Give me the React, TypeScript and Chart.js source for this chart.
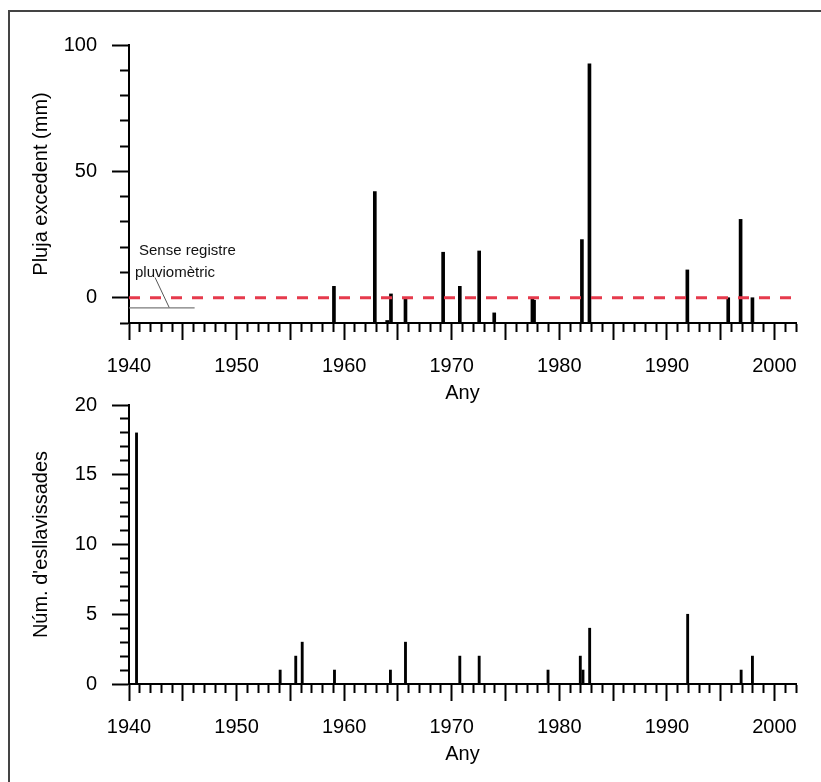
import React, { useEffect, useRef } from 'react';
import { Chart, registerables } from 'chart.js';

Chart.register(...registerables);

// ---------- data ----------
const YEAR_MIN = 1940;
const YEAR_MAX = 2002;

// Top panel: excess rainfall (mm), bars start at the axis floor (-10)
const rainYears = [1959.05, 1962.85, 1964.0, 1964.35, 1965.7, 1969.2, 1970.75, 1972.55, 1973.95, 1977.5, 1977.65, 1982.1, 1982.8, 1991.9, 1995.7, 1996.85, 1997.95];
const rainExcess = [4.5, 42, -9, 1.5, 0, 18, 4.5, 18.5, -6, 0, -1, 23, 92.5, 11, 0, 31, 0];

const thresholdYears = [1940, 2002];
const thresholdValues = [0, 0];

const noRecordYears = [1940, 1946.1];
const noRecordValues = [-4, -4];

const leaderYears = [1942.42, 1943.75];
const leaderValues = [8, -4];

const annotationLines = ['Sense registre', 'pluviomètric'];
const annotationYears = [1940.93, 1940.56];
const annotationValues = [18.4, 9.7];

// Bottom panel: number of landslides
const slideYears = [1940.7, 1954.05, 1955.5, 1956.1, 1959.1, 1964.3, 1965.7, 1970.75, 1972.55, 1978.95, 1981.95, 1982.2, 1982.82, 1991.93, 1996.9, 1997.95];
const slideCounts = [18, 1, 2, 3, 1, 1, 3, 2, 2, 1, 2, 1, 4, 5, 1, 2];

const xTitle = 'Any';
const topYTitle = 'Pluja excedent (mm)';
const bottomYTitle = "Núm. d'esllavissades";

// ---------- styling ----------
const FONT = "'Liberation Sans', Arial, Helvetica, sans-serif";
const INK = '#000';

function xAxes(title: string) {
  return {
    x: {
      type: 'linear', position: 'bottom', weight: 0, min: YEAR_MIN, max: YEAR_MAX, offset: false,
      border: { display: true, color: INK, width: 2 },
      grid: { display: true, drawOnChartArea: false, drawTicks: true, tickLength: 9, tickWidth: 2, tickColor: INK, offset: false },
      ticks: { display: false, stepSize: 1, autoSkip: false, maxTicksLimit: 200 },
      afterFit: (s: any) => { s.height = 9; },
    },
    x5: {
      type: 'linear', position: 'bottom', weight: 1, min: YEAR_MIN, max: YEAR_MAX, offset: false,
      border: { display: false },
      grid: { display: true, drawOnChartArea: false, drawTicks: true, tickLength: 8, tickWidth: 2, tickColor: INK, offset: false },
      ticks: {
        stepSize: 5, includeBounds: false, autoSkip: false, maxRotation: 0, minRotation: 0, maxTicksLimit: 200,
        padding: 14.5, color: INK, font: { family: FONT, size: 20 },
        callback: (v: any) => (Number(v) % 10 === 0 ? String(v) : ''),
      },
      title: { display: true, text: title, color: INK, font: { family: FONT, size: 20 }, padding: { top: 0, bottom: 7 } },
      afterFit: (s: any) => { s.height = 80; },
    },
  };
}

function yAxes(min: number, max: number, minor: number, major: number, title: string) {
  return {
    y: {
      type: 'linear', position: 'left', weight: 0, min, max,
      border: { display: true, color: INK, width: 2 },
      grid: { display: true, drawOnChartArea: false, drawTicks: true, tickLength: 9, tickWidth: 2, tickColor: INK },
      ticks: { display: false, stepSize: minor, maxTicksLimit: 200 },
      afterFit: (s: any) => { s.width = 9; },
    },
    y5: {
      type: 'linear', position: 'left', weight: 1, min, max,
      border: { display: false },
      grid: { display: true, drawOnChartArea: false, drawTicks: true, tickLength: 8, tickWidth: 2, tickColor: INK },
      ticks: {
        stepSize: major, includeBounds: false, maxTicksLimit: 200, padding: 15, color: INK,
        font: { family: FONT, size: 20 }, callback: (v: any) => String(v),
      },
      title: { display: true, text: title, color: INK, font: { family: FONT, size: 20 }, padding: { top: 29, bottom: 0 } },
      afterFit: (s: any) => { s.width = 120; },
    },
  };
}

const annotationPlugin = {
  id: 'noRecordNote',
  afterDatasetsDraw(chart: any) {
    const { ctx, scales } = chart;
    const x = scales.x;
    const y = scales.y;
    ctx.save();
    ctx.font = `15px ${FONT}`;
    ctx.fillStyle = '#111';
    ctx.textAlign = 'left';
    ctx.textBaseline = 'middle';
    annotationLines.forEach((t, i) => {
      ctx.fillText(t, x.getPixelForValue(annotationYears[i]), y.getPixelForValue(annotationValues[i]));
    });
    ctx.restore();
  },
};

const pts = (xs: number[], ys: number[]) => xs.map((x, i) => ({ x, y: ys[i] }));

const W = 821;
const H = 782;

export default function App() {
  const topRef = useRef<HTMLCanvasElement | null>(null);
  const botRef = useRef<HTMLCanvasElement | null>(null);

  useEffect(() => {
    const common = {
      responsive: false,
      animation: false,
      events: [],
      plugins: { legend: { display: false }, tooltip: { enabled: false }, title: { display: false } },
    };

    const top = new Chart(topRef.current as HTMLCanvasElement, {
      type: 'bar',
      data: {
        datasets: [
          {
            type: 'line', xAxisID: 'x', yAxisID: 'y', order: 0,
            data: pts(thresholdYears, thresholdValues),
            borderColor: '#e63a4c', borderWidth: 3.2, borderDash: [11, 10], pointRadius: 0, fill: false,
          },
          {
            type: 'line', xAxisID: 'x', yAxisID: 'y', order: 1,
            data: pts(noRecordYears, noRecordValues),
            borderColor: '#7a7a7a', borderWidth: 1.3, pointRadius: 0, fill: false,
          },
          {
            type: 'line', xAxisID: 'x', yAxisID: 'y', order: 1,
            data: pts(leaderYears, leaderValues),
            borderColor: '#555', borderWidth: 1, pointRadius: 0, fill: false,
          },
          {
            type: 'bar', xAxisID: 'x', yAxisID: 'y', order: 2,
            data: pts(rainYears, rainExcess),
            backgroundColor: INK, borderWidth: 0, barThickness: 3, base: -10,
          },
        ],
      } as any,
      options: {
        ...common,
        layout: { padding: { left: 0, top: 45, right: 25, bottom: H - 323 - 9 - 80 } },
        scales: { ...xAxes(xTitle), ...yAxes(-10, 100, 10, 50, topYTitle) },
      } as any,
      plugins: [annotationPlugin],
    });

    const bottom = new Chart(botRef.current as HTMLCanvasElement, {
      type: 'bar',
      data: {
        datasets: [
          {
            type: 'bar', xAxisID: 'x', yAxisID: 'y',
            data: pts(slideYears, slideCounts),
            backgroundColor: INK, borderWidth: 0, barThickness: 2.2,
          },
        ],
      } as any,
      options: {
        ...common,
        layout: { padding: { left: 0, top: 405, right: 25, bottom: H - 684 - 9 - 80 } },
        scales: { ...xAxes(xTitle), ...yAxes(0, 20, 1, 5, bottomYTitle) },
      } as any,
    });

    return () => {
      top.destroy();
      bottom.destroy();
    };
  }, []);

  const canvasStyle: React.CSSProperties = { position: 'absolute', left: 0, top: 0, width: W, height: H };

  return (
    <div style={{ position: 'fixed', left: 0, top: 0, width: W, height: H, background: '#fff', overflow: 'hidden' }}>
      <div
        style={{
          position: 'absolute', left: 8, top: 10, width: W, height: H,
          borderLeft: '2px solid #444', borderTop: '2px solid #444', boxSizing: 'border-box',
        }}
      />
      <canvas ref={topRef} width={W} height={H} style={canvasStyle} />
      <canvas ref={botRef} width={W} height={H} style={canvasStyle} />
    </div>
  );
}
